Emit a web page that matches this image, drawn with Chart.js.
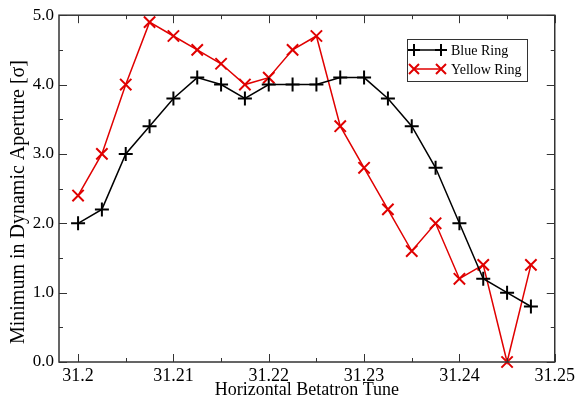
<!DOCTYPE html>
<html><head><meta charset="utf-8">
<script src="https://cdn.jsdelivr.net/npm/chart.js@4"></script>
<style>html,body{margin:0;padding:0;background:#fff}#c{display:block}</style>
</head><body>
<canvas id="c" width="578" height="401"></canvas>
<script>
const tunes = [31.2,31.2025,31.205,31.2075,31.21,31.2125,31.215,31.2175,31.22,31.2225,31.225,31.2275,31.23,31.2325,31.235,31.2375,31.24,31.2425,31.245,31.2475];
const blueRing = [2.0,2.2,3.0,3.4,3.8,4.1,4.0,3.8,4.0,4.0,4.0,4.1,4.1,3.8,3.4,2.8,2.0,1.2,1.0,0.8];
const yellowRing = [2.4,3.0,4.0,4.9,4.7,4.5,4.3,4.0,4.1,4.5,4.7,3.4,2.8,2.2,1.6,2.0,1.2,1.4,0.0,1.4];
const xTicks = [31.2,31.21,31.22,31.23,31.24,31.25];
const xTickLabels = ["31.2","31.21","31.22","31.23","31.24","31.25"];
const yTicks = [0,1,2,3,4,5];
const yTickLabels = ["0.0","1.0","2.0","3.0","4.0","5.0"];
const yTitle = "Minimum in Dynamic Aperture [σ]";

const FONT = "'Liberation Serif','Times New Roman',serif";

const framePlugin = {
  id: 'frame',
  afterDatasetsDraw(chart) {
    const ctx = chart.ctx, a = chart.chartArea;
    const xs = chart.scales.x, ys = chart.scales.y;
    ctx.save();
    ctx.strokeStyle = '#333';
    ctx.lineWidth = 1.5;
    ctx.strokeRect(a.left, a.top, a.right - a.left, a.bottom - a.top);
    ctx.lineWidth = 1;
    ctx.beginPath();
    for (let i = 0; i < xTicks.length; i++) {
      const v = xTicks[i];
      const px = Math.round(xs.getPixelForValue(v)) + 0.5;
      ctx.moveTo(px, a.bottom); ctx.lineTo(px, a.bottom - 8);
      ctx.moveTo(px, a.top); ctx.lineTo(px, a.top + 8);
      if (i < xTicks.length - 1) {
        const m = Math.round(xs.getPixelForValue((v + xTicks[i+1]) / 2)) + 0.5;
        ctx.moveTo(m, a.bottom); ctx.lineTo(m, a.bottom - 4);
        ctx.moveTo(m, a.top); ctx.lineTo(m, a.top + 4);
      }
    }
    for (let i = 0; i < yTicks.length; i++) {
      const v = yTicks[i];
      const py = Math.round(ys.getPixelForValue(v)) + 0.5;
      ctx.moveTo(a.left, py); ctx.lineTo(a.left + 8, py);
      ctx.moveTo(a.right, py); ctx.lineTo(a.right - 8, py);
      if (i < yTicks.length - 1) {
        const m = Math.round(ys.getPixelForValue((v + yTicks[i+1]) / 2)) + 0.5;
        ctx.moveTo(a.left, m); ctx.lineTo(a.left + 4, m);
        ctx.moveTo(a.right, m); ctx.lineTo(a.right - 4, m);
      }
    }
    ctx.stroke();

    // y axis title
    ctx.save();
    ctx.translate(19, 202);
    ctx.rotate(-Math.PI / 2);
    ctx.fillStyle = '#000';
    ctx.font = "20px " + FONT;
    ctx.textAlign = 'center';
    ctx.textBaseline = 'middle';
    ctx.fillText(yTitle, 0, 0);
    ctx.restore();

    // legend
    const lx = 407, ly = 39, lw = 120, lh = 42;
    ctx.fillStyle = '#fff';
    ctx.fillRect(lx, ly, lw, lh);
    ctx.strokeStyle = '#333';
    ctx.lineWidth = 1;
    ctx.strokeRect(lx + 0.5, ly + 0.5, lw, lh);
    const rows = [50, 69];
    chart.data.datasets.forEach((ds, i) => {
      const y = rows[i];
      ctx.strokeStyle = ds.borderColor;
      ctx.lineWidth = 1.5;
      ctx.beginPath(); ctx.moveTo(414, y); ctx.lineTo(441, y); ctx.stroke();
      ctx.lineWidth = 2;
      [414, 441].forEach(cx => {
        ctx.beginPath();
        if (ds.pointStyle === 'cross') {
          ctx.moveTo(cx - 6, y); ctx.lineTo(cx + 6, y);
          ctx.moveTo(cx, y - 6); ctx.lineTo(cx, y + 6);
        } else {
          ctx.moveTo(cx - 5, y - 5); ctx.lineTo(cx + 5, y + 5);
          ctx.moveTo(cx - 5, y + 5); ctx.lineTo(cx + 5, y - 5);
        }
        ctx.stroke();
      });
      ctx.fillStyle = '#000';
      ctx.font = "14px " + FONT;
      ctx.textBaseline = 'middle';
      ctx.textAlign = 'left';
      ctx.fillText(ds.label, 451, y + 1);
    });
    ctx.restore();
  }
};

new Chart(document.getElementById('c'), {
  type: 'line',
  data: {
    datasets: [
      { label: 'Blue Ring', data: tunes.map((t, i) => ({x: t, y: blueRing[i]})),
        borderColor: '#000', backgroundColor: '#000', borderWidth: 1.5,
        pointStyle: 'cross', pointRadius: 7, pointBorderWidth: 2, pointBorderColor: '#000', tension: 0 },
      { label: 'Yellow Ring', data: tunes.map((t, i) => ({x: t, y: yellowRing[i]})),
        borderColor: '#e00000', backgroundColor: '#e00000', borderWidth: 1.5,
        pointStyle: 'crossRot', pointRadius: 8, pointBorderWidth: 2, pointBorderColor: '#e00000', tension: 0 }
    ]
  },
  options: {
    responsive: false, animation: false, devicePixelRatio: 1,
    clip: false,
    layout: { padding: { top: 14, right: 22, left: 0, bottom: 0 } },
    plugins: { legend: { display: false }, tooltip: { enabled: false } },
    scales: {
      x: {
        type: 'linear', min: 31.198, max: 31.25,
        afterBuildTicks: s => { s.ticks = xTicks.map(v => ({ value: v })); },
        afterFit: s => { s.height = 39; },
        grid: { display: false, drawTicks: false }, border: { display: false },
        ticks: { color: '#000', font: { family: FONT, size: 18 }, padding: 3, maxRotation: 0,
          callback: (v) => { const i = xTicks.findIndex(t => Math.abs(t - v) < 1e-9); return i >= 0 ? xTickLabels[i] : ''; } },
        title: { display: true, text: 'Horizontal Betatron Tune', color: '#000', font: { family: FONT, size: 18 }, padding: { top: 0, bottom: 0 } }
      },
      y: {
        min: 0, max: 5,
        afterBuildTicks: s => { s.ticks = yTicks.map(v => ({ value: v })); },
        afterFit: s => { s.width = 59; },
        grid: { display: false, drawTicks: false }, border: { display: false },
        ticks: { color: '#000', font: { family: FONT, size: 17 }, padding: 5,
          callback: (v) => { const i = yTicks.findIndex(t => Math.abs(t - v) < 1e-9); return i >= 0 ? yTickLabels[i] : ''; } },
        title: { display: false }
      }
    }
  },
  plugins: [framePlugin]
});
</script>
</body></html>
